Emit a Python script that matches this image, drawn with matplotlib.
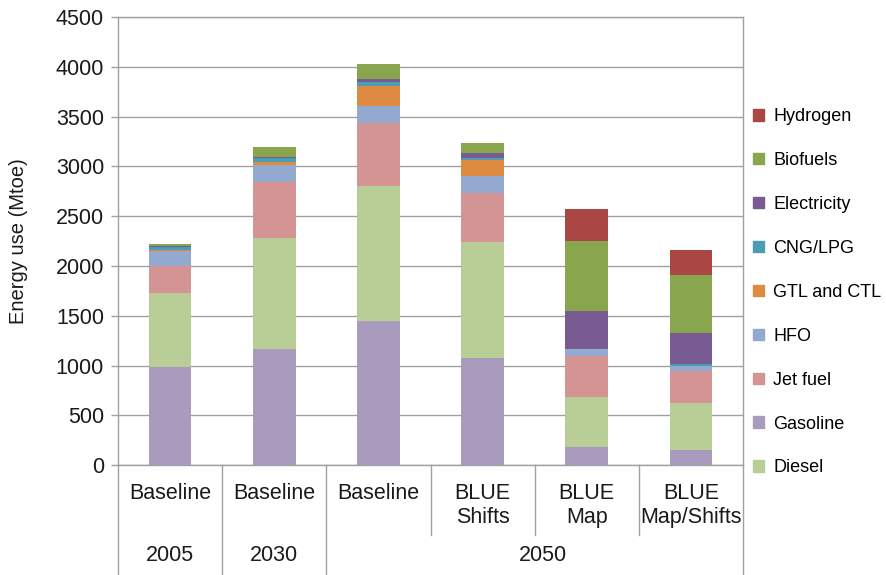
import matplotlib
matplotlib.use("Agg")
from matplotlib import pyplot as plt
from matplotlib.patches import Patch
import numpy as np

plt.rcParams['font.family'] = ['Liberation Sans', 'DejaVu Sans']

# scenarios (bottom row = year, top row = scenario name)
scenarios = ['Baseline', 'Baseline', 'Baseline', 'BLUE\nShifts', 'BLUE\nMap', 'BLUE\nMap/Shifts']
years = ['2005', '2030', '2050']

# energy use by fuel, Mtoe
gasoline = [985, 1165, 1445, 1075, 183, 153]
diesel = [740, 1120, 1360, 1170, 500, 470]
jet_fuel = [280, 560, 635, 490, 417, 320]
hfo = [150, 170, 165, 165, 63, 50]
gtl_ctl = [5, 27, 200, 163, 0, 0]
cng_lpg = [35, 46, 40, 20, 0, 24]
electricity = [10, 10, 30, 47, 390, 316]
biofuels = [20, 97, 150, 106, 700, 580]
hydrogen = [0, 0, 0, 0, 320, 250]

"stack order, bottom to top"
stack = [('Gasoline', gasoline, '#a99bbd'),
         ('Diesel', diesel, '#b9cd96'),
         ('Jet fuel', jet_fuel, '#d39493'),
         ('HFO', hfo, '#93a9d0'),
         ('GTL and CTL', gtl_ctl, '#df8a41'),
         ('CNG/LPG', cng_lpg, '#4a9db3'),
         ('Electricity', electricity, '#775b92'),
         ('Biofuels', biofuels, '#89a64e'),
         ('Hydrogen', hydrogen, '#aa4644')]
legend_order = ['Hydrogen', 'Biofuels', 'Electricity', 'CNG/LPG', 'GTL and CTL',
                'HFO', 'Jet fuel', 'Gasoline', 'Diesel']

fig = plt.figure(figsize=(8.86, 5.75), dpi=100)
ax = fig.add_axes([118 / 886, 1 - 465.3 / 575, 625 / 886, 448.3 / 575])

x = np.arange(len(scenarios))
bottom = np.zeros(len(scenarios))
colors = {}
for name, vals, c in stack:
    ax.bar(x, vals, 0.41, bottom=bottom, color=c, zorder=3)
    bottom += np.array(vals)
    colors[name] = c

grey = '#a0a0a0'
ax.set_xlim(-0.5, 5.5)
ax.set_ylim(0, 4500)
ax.set_yticks(np.arange(0, 4501, 500))
ax.yaxis.grid(True, color=grey, linewidth=1.0, zorder=0)
ax.tick_params(axis='y', labelsize=15.5, color=grey, length=5, width=1, pad=5,
               labelcolor='#1a1a1a')
ax.set_xticks([])
for s in ax.spines.values():
    s.set_color(grey)
    s.set_linewidth(1.0)
ax.set_ylabel('Energy use (Mtoe)', fontsize=14.5, labelpad=20, color='#1a1a1a')

"category axis with two label rows"
trans = ax.get_xaxis_transform()
for xs in [-0.5, 0.5, 1.5, 5.5]:
    ax.plot([xs, xs], [0, -0.244], color=grey, lw=1.0, transform=trans, clip_on=False)
for xs in [2.5, 3.5, 4.5]:
    ax.plot([xs, xs], [0, -0.155], color=grey, lw=1.0, transform=trans, clip_on=False)
for i, s in enumerate(scenarios):
    ax.text(i, -0.04, s, transform=trans, ha='center', va='top', fontsize=15.5,
            linespacing=1.15, color='#1a1a1a')
for xs, y in zip([0, 1, 3.58], years):
    ax.text(xs, -0.202, y, transform=trans, ha='center', va='center', fontsize=15.5,
            color='#1a1a1a')

handles = [Patch(color=colors[n], label=n) for n in legend_order]
fig.legend(handles=handles, loc='upper left', bbox_to_anchor=(746 / 886, 1 - 101 / 575),
           frameon=False, fontsize=13, handlelength=0.6, handleheight=0.6,
           handletextpad=0.5, labelspacing=1.49, borderaxespad=0)

fig.savefig('out.png', dpi=100)
